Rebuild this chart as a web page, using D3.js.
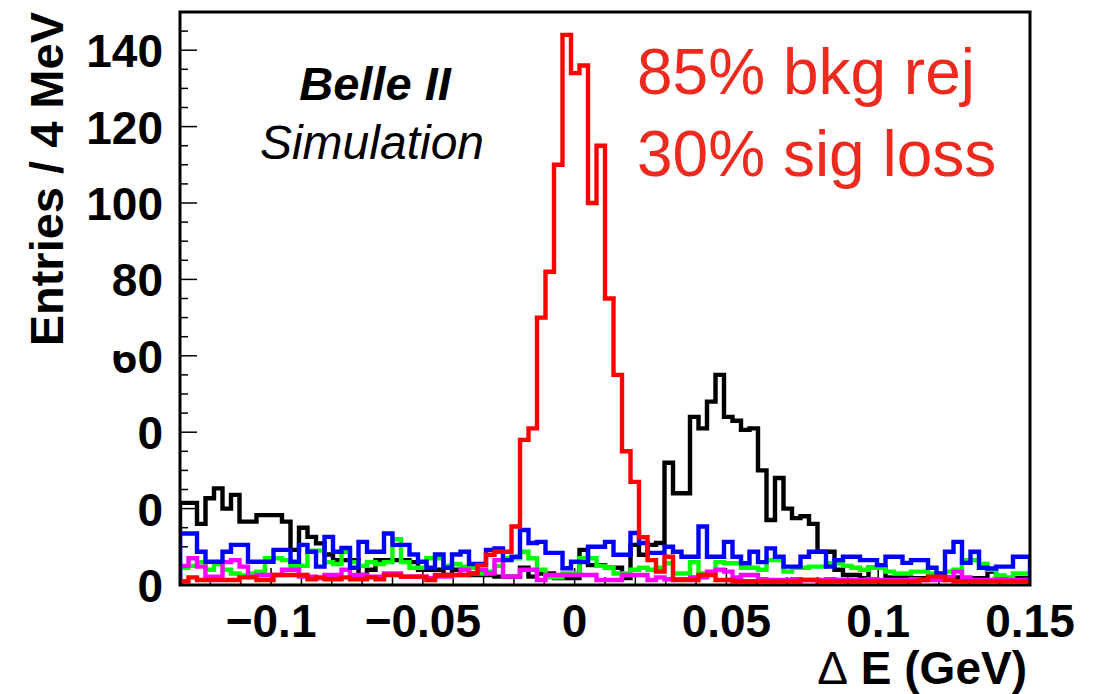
<!DOCTYPE html>
<html>
<head>
<meta charset="utf-8">
<script src="https://cdn.jsdelivr.net/npm/d3@7"></script>
<style>
  html, body { margin: 0; padding: 0; background: #fff; }
  svg { display: block; }
  text { font-family: "Liberation Sans", Arial, Helvetica, sans-serif; }
</style>
</head>
<body>
<svg id="chart" width="1105" height="694"></svg>
<script>
// ---- data (100 bins from -0.13 to 0.15 GeV) ----
const xMin = -0.13, xMax = 0.15, nBins = 100;
const xTicks = [-0.1, -0.05, 0, 0.05, 0.1, 0.15];
const xTickLabels = ["\u22120.1", "\u22120.05", "0", "0.05", "0.1", "0.15"];
const yTicks = [0, 20, 40, 60, 80, 100, 120, 140];
const yTickLabels = ["0", "20", "40", "60", "80", "100", "120", "140"];

const blackVals = [21.5,21.5,16,22.7,25.3,20,23.6,16.6,16.6,18.3,
  18.3,18.3,16.6,9.2,15,12.6,10.9,8,6.5,6.5,
  6.5,2.6,4,6.5,6.5,6.5,6.5,6,4,4,
  4,2.6,4,4,2.6,2.6,2.6,2.2,2.2,2.2,
  4.5,2.2,3,3,1.8,1.8,1.8,9.2,5.2,5.2,
  4.5,4.5,1.8,10.5,7.9,10.5,11,32,24,24,
  44,41,48,55,44,43,40.6,41,30,17,
  28,20,17.5,18,16,8.7,8.7,4,2.6,2.6,
  1.8,4.5,4.5,2,2,2,1.8,1.8,1.8,1.8,
  2,2,1.8,1.8,1.8,3.5,1.8,1.8,1.8,1.8];
const blueVals = [13.5,13.5,8.7,6.1,6.1,8.7,10.5,10.5,6.1,6.1,
  6.1,9.2,9.2,6.1,10.5,8.7,4.8,12.6,8.7,9.7,
  4.5,11.3,8.7,8.7,13.5,10.5,10.5,8,6.1,4.5,
  8,4.5,8,8.7,5.5,5.5,9.2,9.6,6.5,7.4,
  14.4,11,11.3,8.4,8.4,4.4,6.1,6,10,10,
  11.3,7.9,7.9,13.6,11,8.4,8.4,10,8.7,7.4,
  7.4,15.3,7.4,7.4,11.3,7.4,5.7,8.7,6,9.6,
  7.4,4.8,4.8,7.4,8.7,8.7,4.8,6.5,7.4,7.4,
  6.5,6.5,5.2,7.4,7.4,5.8,6.5,6.5,4.5,3,
  8.7,11.3,5.8,8.7,4.5,4.3,4.8,4.8,7.4,7.4];
const greenVals = [4.5,5,6,4,5.5,4,3,2.5,3,3.5,
  7,7,6.5,5,5,9,9,6,5.5,8.7,
  6,5,6,5.5,6,12,6,4.5,4.5,7,
  7,5,5.5,4.8,4.5,3,3.5,5,7,7,
  8.7,7,4,2,2,3,3,7,7,5,
  4.5,3,3,4,4.5,4,4.5,5.7,3,3,
  6,3,3,6,5.7,5.7,4.5,4.5,4,6.5,
  6.5,3.5,4.5,4.5,4.8,4.8,5.7,5.7,5,4.5,
  4,4.5,4.5,3.5,3,3,3.5,3.5,3,3,
  3.5,4,6.5,6.5,5.5,4,2.5,2,3,3];
const magentaVals = [5,7,4.8,2.2,2.2,6,6.5,4.8,2.2,2.6,
  2.6,2.6,4,4,2.2,2.2,1.8,2.6,2.6,4,
  2.6,2.6,2.2,2.2,3,3,2.2,2.2,2.2,1.8,
  2.2,2.2,2.6,4,3,4,3,6.5,2.2,2.2,
  4,4,1.3,2.6,2.6,2.6,2.6,2.6,2.6,1.3,
  1.3,1.3,2.6,2.6,2.6,1.3,2,1.5,1.5,1.5,
  2,2,3.5,4,3.5,2,2.6,2.6,1.5,1.3,
  1.3,1.3,1.5,1.3,1.3,1.3,1.5,1.3,1.3,1.3,
  1.3,1.5,1.3,1.3,1.3,1.3,1.5,1.3,1.3,1.3,
  2,3.5,2,1.3,1.3,1.3,1.5,1.3,1.3,1.3];
const redVals = [1,2,1.3,1.3,1.3,1.3,1.3,2,2,1.3,
  1.3,2.6,2.6,2.6,2.6,1.5,2,1.5,1.5,2,
  1.5,1.5,2,1.5,2.6,2.6,2.2,2.2,2.2,1.3,
  2.6,2.6,2.6,2.6,3,5.2,7.9,8.7,8.7,15.3,
  38,41,70,82,110,144,134,136,100,115,
  75,55,35,27,12.5,6.5,3.5,7.4,1.3,1.3,
  1.3,2.6,2.6,1.3,1.3,1,1,1,1,1,
  1,1,1,1.3,1.3,1,1,1,1,1,
  1,1,1,1,1,1,1,1.3,2.2,2.2,
  1.3,1,1,1,1,1,1,1,1,1];

const series = [
  { name: "black", color: "#000000", values: blackVals },
  { name: "green", color: "#00ff00", values: greenVals },
  { name: "magenta", color: "#ff00ff", values: magentaVals },
  { name: "blue", color: "#0000ff", values: blueVals },
  { name: "red", color: "#ff0000", values: redVals }
];

// ---- layout ----
const svg = d3.select("#chart");
const L = 180, R = 1030, T = 12, B = 585;
const x = d3.scaleLinear().domain([xMin, xMax]).range([L, R]);
const y = d3.scaleLinear().domain([0, 150]).range([B, T]);
const binW = (xMax - xMin) / nBins;

svg.append("defs").append("clipPath").attr("id", "frameClip")
  .append("rect").attr("x", L).attr("y", T).attr("width", R - L).attr("height", B - T);

// y ticks (inside, pointing right)
const yMinor = d3.range(0, 150.01, 5);
svg.append("g").selectAll("line").data(yMinor).join("line")
  .attr("x1", L).attr("x2", d => L + (d % 20 === 0 ? 17 : 8))
  .attr("y1", d => y(d)).attr("y2", d => y(d))
  .attr("stroke", "#000").attr("stroke-width", 1.5);

// x ticks (inside, pointing up)
const xMinor = d3.range(-0.12, 0.1501, 0.01).map(v => Math.round(v * 1000) / 1000);
svg.append("g").selectAll("line").data(xMinor).join("line")
  .attr("x1", d => x(d)).attr("x2", d => x(d))
  .attr("y1", B).attr("y2", d => B - (Math.abs(Math.round(d * 100) % 5) === 0 ? 17 : 8))
  .attr("stroke", "#000").attr("stroke-width", 1.5);

// histograms
const line = d3.line();
const gh = svg.append("g").attr("clip-path", "url(#frameClip)");
series.forEach(s => {
  const pts = [[x(xMin), y(0)]];
  s.values.forEach((v, i) => {
    const x0 = xMin + i * binW, x1 = x0 + binW;
    pts.push([x(x0), y(v)], [x(x1), y(v)]);
  });
  pts.push([x(xMax), y(0)]);
  gh.append("path").attr("d", line(pts))
    .attr("fill", "none").attr("stroke", s.color)
    .attr("stroke-width", 4.4).attr("stroke-linejoin", "miter");
});

// frame
svg.append("rect").attr("x", L).attr("y", T).attr("width", R - L).attr("height", B - T)
  .attr("fill", "none").attr("stroke", "#000").attr("stroke-width", 3);

// y tick labels
svg.append("g").selectAll("text").data(yTicks).join("text")
  .attr("x", 163).attr("y", d => y(d) + 17)
  .attr("text-anchor", "end").attr("font-size", 46).attr("font-weight", "bold")
  .text((d, i) => yTickLabels[i]);

// masks replicating the clipped labels in the reference
svg.append("rect").attr("x", 95).attr("y", 330).attr("width", 43).attr("height", 21).attr("fill", "#fff");
svg.append("rect").attr("x", 95).attr("y", 380).attr("width", 43).attr("height", 170).attr("fill", "#fff");

// x tick labels
svg.append("g").selectAll("text").data(xTicks).join("text")
  .attr("x", d => x(d)).attr("y", 637)
  .attr("text-anchor", "middle").attr("font-size", 46).attr("font-weight", "bold")
  .text((d, i) => xTickLabels[i]);

// axis titles
const xt = svg.append("text").attr("x", 1027).attr("y", 684)
  .attr("text-anchor", "end").attr("font-size", 46).attr("font-weight", "bold");
xt.append("tspan").attr("font-weight", "normal").text("\u0394");
xt.append("tspan").text(" E (GeV)");

svg.append("text").attr("transform", "translate(63,12) rotate(-90)")
  .attr("text-anchor", "end").attr("font-size", 47).attr("font-weight", "bold")
  .text("Entries / 4 MeV");

// labels
svg.append("text").attr("x", 375).attr("y", 100).attr("text-anchor", "middle")
  .attr("font-size", 47).attr("font-weight", "bold").attr("font-style", "italic")
  .text("Belle II");
svg.append("text").attr("x", 372).attr("y", 159).attr("text-anchor", "middle")
  .attr("font-size", 48).attr("font-style", "italic")
  .text("Simulation");
svg.append("text").attr("x", 637).attr("y", 94)
  .attr("font-size", 64).attr("fill", "#ee2a1e")
  .text("85% bkg rej");
svg.append("text").attr("x", 637).attr("y", 176)
  .attr("font-size", 64).attr("fill", "#ee2a1e")
  .text("30% sig loss");
</script>
</body>
</html>
